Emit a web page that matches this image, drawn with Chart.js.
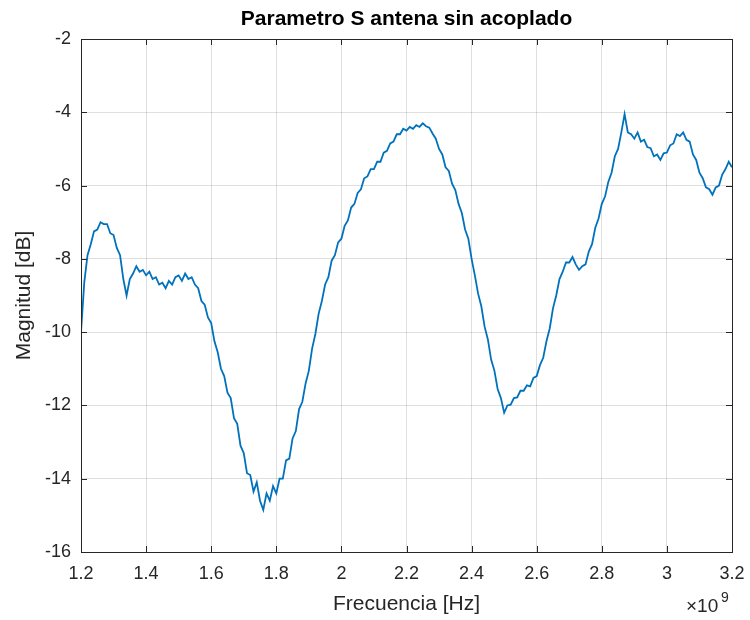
<!DOCTYPE html>
<html>
<head>
<meta charset="utf-8">
<title>Parametro S antena sin acoplado</title>
<script src="https://cdn.jsdelivr.net/npm/chart.js@4/dist/chart.umd.min.js"></script>
<style>
  html, body { margin: 0; padding: 0; background: #ffffff; }
  #wrap { width: 750px; height: 620px; }
</style>
</head>
<body>
<div id="wrap"><canvas id="sParamChart" width="750" height="620"></canvas></div>
<script>
// Frequency samples, in units of 1e9 Hz (axis shows x10^9)
const freqGHz = [
  1.20, 1.21, 1.22, 1.23, 1.24, 1.25, 1.26, 1.27, 1.28, 1.29,
  1.30, 1.31, 1.32, 1.33, 1.34, 1.35, 1.36, 1.37, 1.38, 1.39,
  1.40, 1.41, 1.42, 1.43, 1.44, 1.45, 1.46, 1.47, 1.48, 1.49,
  1.50, 1.51, 1.52, 1.53, 1.54, 1.55, 1.56, 1.57, 1.58, 1.59,
  1.60, 1.61, 1.62, 1.63, 1.64, 1.65, 1.66, 1.67, 1.68, 1.69,
  1.70, 1.71, 1.72, 1.73, 1.74, 1.75, 1.76, 1.77, 1.78, 1.79,
  1.80, 1.81, 1.82, 1.83, 1.84, 1.85, 1.86, 1.87, 1.88, 1.89,
  1.90, 1.91, 1.92, 1.93, 1.94, 1.95, 1.96, 1.97, 1.98, 1.99,
  2.00, 2.01, 2.02, 2.03, 2.04, 2.05, 2.06, 2.07, 2.08, 2.09,
  2.10, 2.11, 2.12, 2.13, 2.14, 2.15, 2.16, 2.17, 2.18, 2.19,
  2.20, 2.21, 2.22, 2.23, 2.24, 2.25, 2.26, 2.27, 2.28, 2.29,
  2.30, 2.31, 2.32, 2.33, 2.34, 2.35, 2.36, 2.37, 2.38, 2.39,
  2.40, 2.41, 2.42, 2.43, 2.44, 2.45, 2.46, 2.47, 2.48, 2.49,
  2.50, 2.51, 2.52, 2.53, 2.54, 2.55, 2.56, 2.57, 2.58, 2.59,
  2.60, 2.61, 2.62, 2.63, 2.64, 2.65, 2.66, 2.67, 2.68, 2.69,
  2.70, 2.71, 2.72, 2.73, 2.74, 2.75, 2.76, 2.77, 2.78, 2.79,
  2.80, 2.81, 2.82, 2.83, 2.84, 2.85, 2.86, 2.87, 2.88, 2.89,
  2.90, 2.91, 2.92, 2.93, 2.94, 2.95, 2.96, 2.97, 2.98, 2.99,
  3.00, 3.01, 3.02, 3.03, 3.04, 3.05, 3.06, 3.07, 3.08, 3.09,
  3.10, 3.11, 3.12, 3.13, 3.14, 3.15, 3.16, 3.17, 3.18, 3.19,
  3.20
];

// Magnitude in dB
const magnitudeDb = [
  -10.0, -8.65, -7.9, -7.6, -7.25, -7.2, -7.0, -7.05, -7.05, -7.3,
  -7.35, -7.7, -7.9, -8.55, -9.0, -8.55, -8.4, -8.2, -8.35, -8.3,
  -8.45, -8.35, -8.55, -8.5, -8.7, -8.65, -8.8, -8.6, -8.7, -8.5,
  -8.45, -8.6, -8.4, -8.55, -8.5, -8.7, -8.8, -9.15, -9.25, -9.6,
  -9.75, -10.25, -10.55, -11.0, -11.2, -11.65, -11.8, -12.35, -12.5, -13.1,
  -13.3, -13.85, -13.9, -14.35, -14.1, -14.6, -14.85, -14.4, -14.6, -14.2,
  -14.4, -14.0, -14.0, -13.5, -13.45, -12.9, -12.7, -12.1, -11.9, -11.4,
  -11.05, -10.45, -10.05, -9.5, -9.15, -8.7, -8.5, -8.05, -7.9, -7.55,
  -7.45, -7.1, -6.95, -6.6, -6.5, -6.2, -6.1, -5.8, -5.75, -5.55,
  -5.55, -5.35, -5.35, -5.1, -5.05, -4.85, -4.8, -4.6, -4.6, -4.45,
  -4.5, -4.4, -4.45, -4.35, -4.4, -4.3, -4.38, -4.42, -4.58, -4.72,
  -5.0, -5.15, -5.5, -5.6, -5.95, -6.12, -6.5, -6.75, -7.2, -7.45,
  -8.0, -8.45, -8.95, -9.3, -9.85, -10.2, -10.75, -11.05, -11.55, -11.8,
  -12.2, -12.0, -11.98, -11.8, -11.78, -11.6, -11.6, -11.45, -11.48, -11.25,
  -11.2, -10.9, -10.7, -10.25, -9.9, -9.35, -9.0, -8.55, -8.35, -8.1,
  -8.1, -7.95, -8.15, -8.3, -8.2, -8.15, -7.8, -7.6, -7.15, -6.9,
  -6.5, -6.3, -5.9, -5.65, -5.2, -5.0, -4.55, -4.05, -4.55, -4.6,
  -4.72, -4.55, -4.8, -4.75, -4.95, -4.98, -5.2, -5.15, -5.3, -5.12,
  -5.1, -4.9, -4.85, -4.6, -4.65, -4.55, -4.75, -4.8, -5.15, -5.3,
  -5.65, -5.8, -6.05, -6.1, -6.25, -6.05, -6.0, -5.7, -5.55, -5.35,
  -5.5
];

// Tick values for both axes
const xTicks = [1.2, 1.4, 1.6, 1.8, 2.0, 2.2, 2.4, 2.6, 2.8, 3.0, 3.2];
const yTicks = [-16, -14, -12, -10, -8, -6, -4, -2];

const titleText = 'Parametro S antena sin acoplado';
const xLabel = 'Frecuencia [Hz]';
const yLabel = 'Magnitud [dB]';

const axisColor = '#262626';
const gridColor = 'rgba(38,38,38,0.15)';
const lineColor = '#0072BD';
const fontFamily = '"Liberation Sans", Arial, Helvetica, sans-serif';

// Draws the box, inward tick marks, title, axis labels and the exponent
const matlabFrame = {
  id: 'matlabFrame',
  afterDraw(chart) {
    const ctx = chart.ctx;
    const area = chart.chartArea;
    const xs = chart.scales.x;
    const ys = chart.scales.y;
    const tick = 6;

    ctx.save();
    ctx.strokeStyle = axisColor;
    ctx.lineWidth = 1;

    // box
    ctx.beginPath();
    ctx.rect(Math.round(area.left) + 0.5, Math.round(area.top) + 0.5,
      Math.round(area.right - area.left), Math.round(area.bottom - area.top));
    ctx.stroke();

    // inward ticks on all four sides
    ctx.beginPath();
    xTicks.forEach(v => {
      const px = Math.round(xs.getPixelForValue(v)) + 0.5;
      ctx.moveTo(px, area.bottom); ctx.lineTo(px, area.bottom - tick);
      ctx.moveTo(px, area.top); ctx.lineTo(px, area.top + tick);
    });
    yTicks.forEach(v => {
      const py = Math.round(ys.getPixelForValue(v)) + 0.5;
      ctx.moveTo(area.left, py); ctx.lineTo(area.left + tick, py);
      ctx.moveTo(area.right, py); ctx.lineTo(area.right - tick, py);
    });
    ctx.stroke();

    const midX = (area.left + area.right) / 2;
    const midY = (area.top + area.bottom) / 2;
    ctx.fillStyle = '#000000';
    ctx.textAlign = 'center';
    ctx.textBaseline = 'middle';
    ctx.font = 'bold 21px ' + fontFamily;
    ctx.fillText(titleText, midX, 19);

    ctx.fillStyle = axisColor;
    ctx.font = '21px ' + fontFamily;
    ctx.fillText(xLabel, midX, 604);

    ctx.save();
    ctx.translate(24, midY);
    ctx.rotate(-Math.PI / 2);
    ctx.fillText(yLabel, 0, 0);
    ctx.restore();

    // x10^9 exponent at the lower right
    ctx.textAlign = 'left';
    ctx.textBaseline = 'alphabetic';
    ctx.font = '19px ' + fontFamily;
    ctx.fillText('\u00d710', 686, 612);
    ctx.font = '14px ' + fontFamily;
    ctx.fillText('9', 721, 602);
    ctx.restore();
  }
};

const points = freqGHz.map((f, i) => ({ x: f, y: magnitudeDb[i] }));

new Chart(document.getElementById('sParamChart').getContext('2d'), {
  type: 'line',
  data: {
    datasets: [{
      label: 'S11',
      data: points,
      borderColor: lineColor,
      borderWidth: 1.8,
      pointRadius: 0,
      tension: 0,
      fill: false
    }]
  },
  options: {
    responsive: false,
    animation: false,
    devicePixelRatio: 1,
    layout: { padding: { top: 39, right: 18, left: 0, bottom: 0 } },
    plugins: {
      legend: { display: false },
      title: { display: false },
      tooltip: { enabled: false }
    },
    scales: {
      x: {
        type: 'linear',
        min: 1.2,
        max: 3.2,
        afterFit(scale) {
          scale.height = 68;
          // keep the end labels from pushing the plot area in
          scale.paddingLeft = 0;
          scale.paddingRight = 0;
        },
        afterBuildTicks(scale) { scale.ticks = xTicks.map(v => ({ value: v })); },
        ticks: {
          padding: 11,
          color: axisColor,
          font: { family: fontFamily, size: 18 },
          maxRotation: 0,
          autoSkip: false,
          callback: v => String(Math.round(v * 10) / 10)
        },
        grid: { color: gridColor, drawTicks: false },
        border: { color: axisColor, width: 1 }
      },
      y: {
        type: 'linear',
        min: -16,
        max: -2,
        afterFit(scale) {
          scale.width = 81;
          scale.paddingTop = 0;
          scale.paddingBottom = 0;
        },
        afterBuildTicks(scale) { scale.ticks = yTicks.map(v => ({ value: v })); },
        ticks: {
          padding: 10,
          color: axisColor,
          font: { family: fontFamily, size: 18 },
          autoSkip: false,
          callback: v => String(v)
        },
        grid: { color: gridColor, drawTicks: false },
        border: { color: axisColor, width: 1 }
      }
    }
  },
  plugins: [matlabFrame]
});
</script>
</body>
</html>
